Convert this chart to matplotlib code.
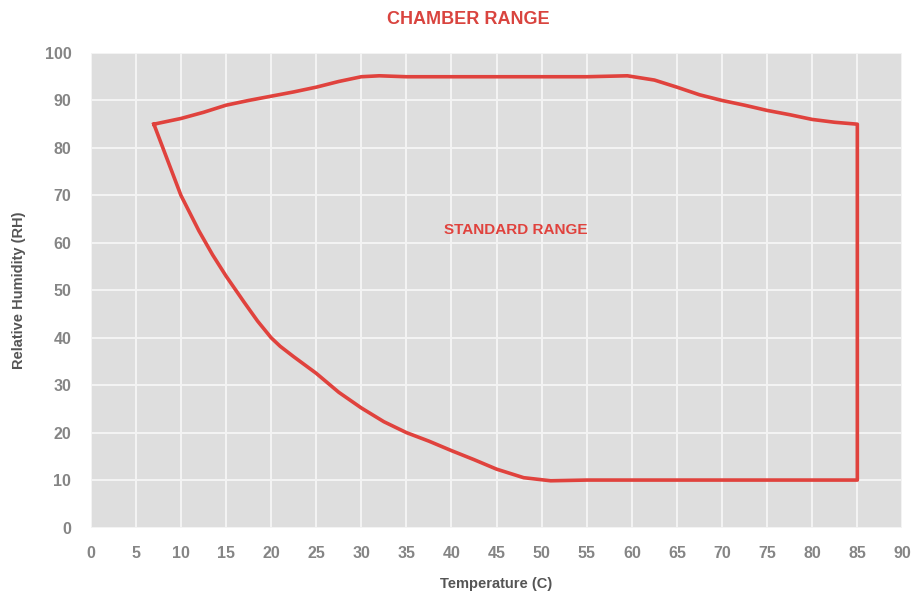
import matplotlib.pyplot as plt
import numpy as np

# chamber range outline, traced clockwise from the left corner
temp = [7, 10, 12.5, 15, 17.5, 20, 22.5, 25, 27.5, 30, 32, 35, 40, 45, 50, 55, 59.5, 62.5, 65, 67.5, 70, 72.5, 75, 77.5, 80, 82.5, 85,
        85, 80, 70, 60, 55, 51, 48, 45, 42.5, 40, 37.5, 35, 32.5, 30, 27.5, 25, 22.5, 21, 20, 18.5, 17, 15, 13.5, 12, 10, 8.5, 7]
humidity = [85, 86.2, 87.5, 89, 90, 90.9, 91.8, 92.8, 94, 95, 95.2, 95, 95, 95, 95, 95, 95.2, 94.3, 92.8, 91.2, 90, 89, 87.9, 87, 86, 85.4, 85,
            10, 10, 10, 10, 10, 9.85, 10.5, 12.3, 14.3, 16.2, 18.2, 20, 22.3, 25.2, 28.5, 32.5, 36, 38.2, 40, 43.5, 47.5, 53, 57.5, 62.5, 70, 77.5, 85]

x_ticks = list(range(0, 95, 5))
y_ticks = list(range(0, 110, 10))

RED = '#E0423D'
GREY = '#858585'

fig = plt.figure(figsize=(9.12, 5.97), dpi=100)
ax = fig.add_axes([0.0995, 0.1164, 0.890, 0.7948])
ax.set_facecolor('#dedede')
ax.set_xlim(0, 90)
ax.set_ylim(0, 100)
ax.set_xticks(x_ticks)
ax.set_yticks(y_ticks)
ax.grid(True, color='#f4f4f4', linewidth=1.4)
ax.set_axisbelow(True)
for s in ax.spines.values():
    s.set_visible(False)
ax.tick_params(length=0, colors=GREY, labelsize=11.5)
ax.tick_params(axis='x', pad=13)
ax.tick_params(axis='y', pad=14)
for lab in ax.get_xticklabels() + ax.get_yticklabels():
    lab.set_fontfamily('Liberation Sans')
    lab.set_fontweight('bold')

ax.plot(temp, humidity, color=RED, linewidth=2.6, solid_joinstyle='round')
ax.text(47.1, 62.6, 'STANDARD RANGE', color=RED, fontsize=11, fontweight='bold',
        family='Liberation Sans', ha='center', va='center')

ax.set_xlabel('Temperature (C)', color='#555555', fontsize=10.5, fontweight='bold',
              family='Liberation Sans', labelpad=12)
ax.set_ylabel('Relative Humidity (RH)', color='#555555', fontsize=10.5, fontweight='bold',
              family='Liberation Sans', labelpad=13)
fig.text(0.513, 0.968, 'CHAMBER RANGE', color='#D9443F', fontsize=13, fontweight='bold',
         family='Liberation Sans', ha='center', va='center')

fig.savefig('out.png', dpi=100)
